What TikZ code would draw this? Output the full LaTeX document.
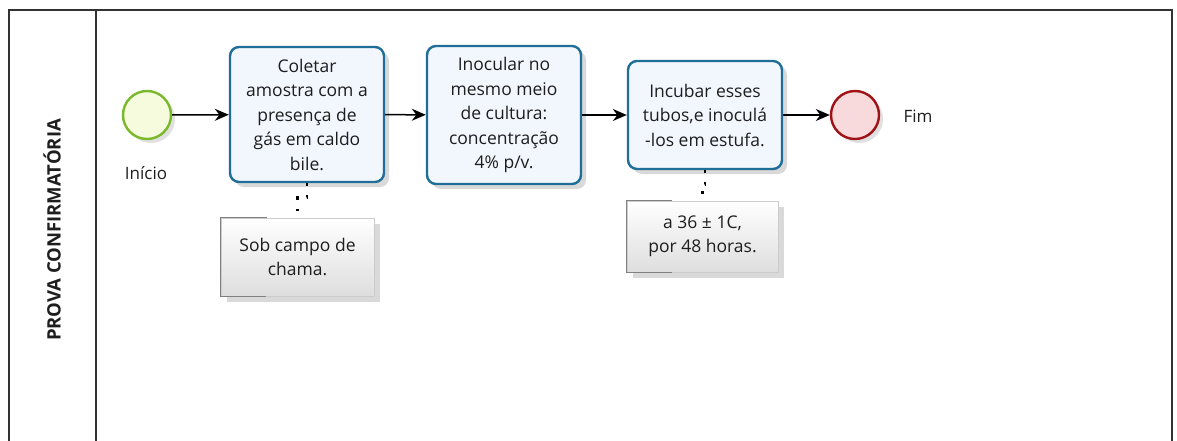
\documentclass[tikz,border=0pt]{standalone}
\usepackage{fontspec}
\setmainfont{Open Sans}
\usetikzlibrary{arrows.meta,positioning,shadows}

\definecolor{taskline}{RGB}{30,110,152}
\definecolor{taskfill}{RGB}{242,246,253}
\definecolor{startline}{RGB}{122,184,44}
\definecolor{startfill}{RGB}{246,251,222}
\definecolor{endline}{RGB}{160,18,22}
\definecolor{endfill}{RGB}{248,218,220}
\definecolor{lanestroke}{RGB}{50,50,50}
\definecolor{txt}{RGB}{30,30,30}

\tikzset{
  tarefa/.style={draw=taskline,line width=2.4pt,rounded corners=9pt,fill=taskfill,
    align=center,text=txt,font=\fontsize{17.5}{24.5}\selectfont,inner sep=0pt,
    drop shadow={shadow xshift=5pt,shadow yshift=-5pt,opacity=0.15,fill=black}},
  evento/.style={circle,line width=2.4pt,minimum size=48pt,inner sep=0pt,
    drop shadow={shadow xshift=4pt,shadow yshift=-4pt,opacity=0.12,fill=black}},
  nota/.style={draw=black!20,line width=0.8pt,top color=white,bottom color=black!13,
    align=center,text=txt,font=\fontsize{17.5}{24.5}\selectfont,inner sep=0pt,
    drop shadow={shadow xshift=6pt,shadow yshift=-6pt,opacity=0.15,fill=black}},
  fluxo/.style={-{Stealth[length=14pt,width=12pt]},line width=1.5pt,black},
  pontos/.style={line width=2.6pt,dash pattern=on 2.6pt off 9pt,black},
  rotulo/.style={text=txt,font=\fontsize{17}{22}\selectfont}
}

\begin{document}
\begin{tikzpicture}[x=1pt,y=-1pt]
  \useasboundingbox (0,0) rectangle (1177,441);

  % raia
  \draw[lanestroke,line width=1.4pt] (9,441) -- (9,10) -- (1172,10) -- (1172,441);
  \draw[lanestroke,line width=1.4pt] (96,10) -- (96,441);
  \node[rotate=90,font=\bfseries\fontsize{18.5}{22}\selectfont,text=txt] (raia) at (52,230) {PROVA CONFIRMATÓRIA};

  % eventos e tarefas
  \node[evento,draw=startline,fill=startfill] (inicio) at (147,115) {};
  \node[rotulo] (lblinicio) at (146,173) {Início};

  \node[tarefa,minimum width=154pt,minimum height=135pt] (coletar) at (307,114.5)
    {Coletar\\amostra com a\\presença de\\gás em caldo\\bile.};
  \node[tarefa,minimum width=154pt,minimum height=138pt] (inocular) at (504,115)
    {Inocular no\\mesmo meio\\de cultura:\\concentração\\4\% p/v.};
  \node[tarefa,minimum width=154pt,minimum height=108pt] (incubar) at (705,115)
    {Incubar esses\\tubos,e inoculá\\-los em estufa.};

  \node[evento,draw=endline,fill=endfill] (fim) at (855,115) {};
  \node[rotulo,anchor=west] (lblfim) at (900,116) {Fim};

  % anotacoes
  \node[nota,minimum width=153pt,minimum height=78pt] (nota1) at (297.5,257)
    {Sob campo de\\chama.};
  \node[nota,minimum width=151pt,minimum height=71pt] (nota2) at (702.5,236.5)
    {a 36 ± 1C,\\por 48 horas.};
  \draw[black!50,line width=1.2pt] ([xshift=-31pt]nota1.north) -| (nota1.south west) -- ++(45,0);
  \draw[black!50,line width=1.2pt] ([xshift=-31pt]nota2.north) -| (nota2.south west) -- ++(45,0);

  % fluxo
  \draw[fluxo] (inicio) -- (coletar);
  \draw[fluxo] (coletar) -- (inocular);
  \draw[fluxo] (inocular) -- (incubar);
  \draw[fluxo] (incubar) -- (fim);

  \draw[pontos] (coletar.south) -- ++(0,14) -| (nota1.north);
  \draw[pontos] (incubar.south) -- ++(0,14) -| (nota2.north);
\end{tikzpicture}
\end{document}
